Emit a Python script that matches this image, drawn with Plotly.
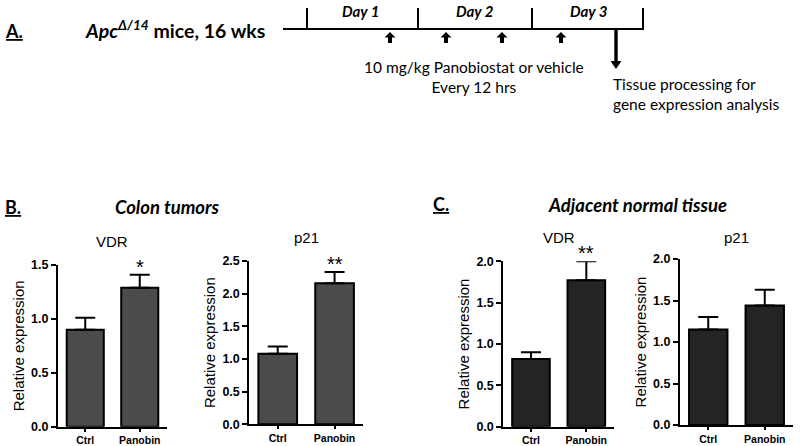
import plotly.graph_objects as go

# ---------------- data ----------------
groups = ["Ctrl", "Panobin"]
colon_vdr = [0.90, 1.29]
colon_vdr_err = [0.11, 0.12]
colon_p21 = [1.08, 2.16]
colon_p21_err = [0.11, 0.17]
adj_vdr = [0.82, 1.77]
adj_vdr_err = [0.08, 0.23]
adj_p21 = [1.15, 1.44]
adj_p21_err = [0.15, 0.19]
sig_marks = ["*", "**", "**", ""]
panel_titles = ["VDR", "p21", "VDR", "p21"]
y_max = [1.5, 2.5, 2.0, 2.0]

W, H = 800, 446
def X(px):
    return px / W
def Y(py):
    return 1 - py / H

panels = [
    dict(vals=colon_vdr, err=colon_vdr_err, color="#4b4b4b", xd=(58, 167), yd=(265, 426.7)),
    dict(vals=colon_p21, err=colon_p21_err, color="#4b4b4b", xd=(249.3, 363), yd=(261, 424.3)),
    dict(vals=adj_vdr, err=adj_vdr_err, color="#242424", xd=(503.3, 614), yd=(261.3, 426.7)),
    dict(vals=adj_p21, err=adj_p21_err, color="#242424", xd=(680, 793), yd=(259, 425)),
]

fig = go.Figure()
annotations = []
layout_axes = {}
AX_FONT = "Liberation Sans, Arial, sans-serif"
for i, p in enumerate(panels):
    n = "" if i == 0 else str(i + 1)
    fig.add_trace(go.Bar(
        x=groups, y=p["vals"], xaxis="x" + n, yaxis="y" + n,
        marker=dict(color=p["color"], line=dict(color="black", width=2)),
        width=0.68,
        error_y=dict(type="data", symmetric=False, array=p["err"], arrayminus=[0, 0],
                     color="black", thickness=2, width=10),
        showlegend=False, hoverinfo="skip",
    ))
    layout_axes["xaxis" + n] = dict(
        domain=[X(p["xd"][0]), X(p["xd"][1])], anchor="y" + n, automargin=False,
        range=[-0.5, 1.5], showline=True, linecolor="black", linewidth=2,
        ticks="outside", ticklen=3, tickwidth=2, tickcolor="black",
        tickfont=dict(family=AX_FONT, size=10.5, color="black", weight="bold"),
        showgrid=False, zeroline=False, fixedrange=True,
    )
    layout_axes["yaxis" + n] = dict(
        domain=[Y(p["yd"][1]), Y(p["yd"][0])], anchor="x" + n, automargin=False,
        range=[0, y_max[i]], dtick=0.5, tickformat=".1f",
        showline=True, linecolor="black", linewidth=2,
        ticks="outside", ticklen=5, tickwidth=2, tickcolor="black",
        tickfont=dict(family=AX_FONT, size=12.5, color="black", weight="bold"),
        title=dict(text="Relative expression", standoff=3,
                   font=dict(family=AX_FONT, size=15, color="black")),
        showgrid=False, zeroline=False, fixedrange=True,
    )
    annotations.append(dict(
        text=panel_titles[i], xref="x" + n + " domain", yref="paper",
        x=0.5, y=Y(237 if i else 241), xanchor="center", yanchor="middle", showarrow=False,
        font=dict(family=AX_FONT, size=15, color="black"),
    ))
    if sig_marks[i]:
        annotations.append(dict(
            text=sig_marks[i], xref="x" + n, yref="y" + n,
            x=1, y=p["vals"][1] + p["err"][1], xanchor="center", yanchor="bottom", yshift=-5,
            showarrow=False, font=dict(family=AX_FONT, size=20, color="black"),
        ))

TXT = "Lato, Open Sans, sans-serif"
def note(text, px, py, size, xanchor="center", **kw):
    d = dict(text=text, x=X(px), y=Y(py), xref="paper", yref="paper", showarrow=False,
             xanchor=xanchor, yanchor="middle",
             font=dict(family=TXT, size=size, color="black"))
    d.update(kw)
    return d

annotations += [
    note("<b><u>A.</u></b>", 3, 31, 18, xanchor="left"),
    note("<b><i>Apc</i><sup><i>Δ/14</i></sup> mice, 16 wks</b>", 83, 30, 19.5, xanchor="left"),
    note("<b><i>Day 1</i></b>", 360, 11, 15),
    note("<b><i>Day 2</i></b>", 475, 11, 15),
    note("<b><i>Day 3</i></b>", 588, 11, 15),
    note("10 mg/kg Panobiostat or vehicle<br>Every 12 hrs", 474, 77, 15.5, align="center"),
    note("Tissue processing for<br>gene expression analysis", 611, 94, 15.5, xanchor="left", align="left"),
    note("<b><u>B.</u></b>", 3, 207, 18, xanchor="left"),
    note("<b><i>Colon tumors</i></b>", 167, 207, 18.5),
    note("<b><u>C.</u></b>", 431, 204, 18, xanchor="left"),
    note("<b><i>Adjacent normal tissue</i></b>", 637, 205, 18.5),
]

def arrow_path(cx, tip, neck, tail, head_half, stem_half):
    """Filled arrow outline (pixel values converted to paper coordinates)."""
    pts = [(cx, tip), (cx + head_half, neck), (cx + stem_half, neck), (cx + stem_half, tail),
           (cx - stem_half, tail), (cx - stem_half, neck), (cx - head_half, neck)]
    return "M " + " L ".join(f"{X(a):.5f},{Y(b):.5f}" for a, b in pts) + " Z"

shapes = [dict(type="line", xref="paper", yref="paper", x0=X(283), x1=X(644), y0=Y(29), y1=Y(29),
               line=dict(color="black", width=2))]
for tx in [307, 418, 532, 643]:
    shapes.append(dict(type="line", xref="paper", yref="paper", x0=X(tx), x1=X(tx), y0=Y(29), y1=Y(8),
                       line=dict(color="black", width=2)))
# small dosing arrows (pointing up)
for ax_px in [390, 446, 502, 561]:
    shapes.append(dict(type="path", xref="paper", yref="paper",
                       path=arrow_path(ax_px, 32, 37.5, 43, 5.5, 2),
                       fillcolor="black", line=dict(width=0)))
# big tissue-processing arrow (pointing down)
shapes.append(dict(type="path", xref="paper", yref="paper",
                   path=arrow_path(616, 69, 61, 29, 5.5, 1.7),
                   fillcolor="black", line=dict(width=0)))

fig.update_layout(
    width=W, height=H, margin=dict(l=0, r=0, t=0, b=0, autoexpand=False),
    paper_bgcolor="white", plot_bgcolor="white", showlegend=False,
    annotations=annotations, shapes=shapes,
    **layout_axes,
)
fig.write_html("out.html", config={"displayModeBar": False},
               post_script="document.body.style.margin='0';")
